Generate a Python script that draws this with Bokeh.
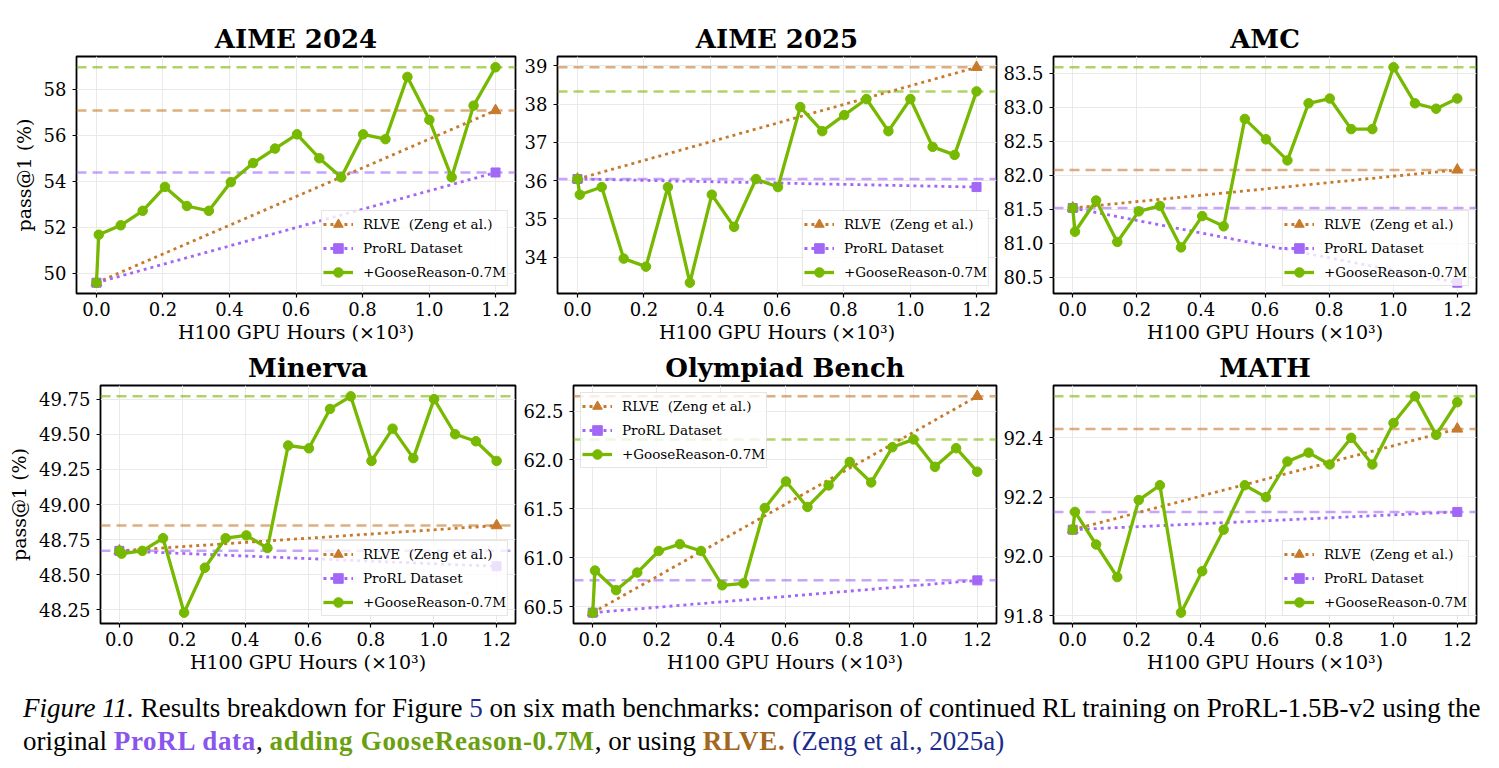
from bokeh.plotting import figure
from bokeh.layouts import row, column
from bokeh.models import (FixedTicker, PrintfTickFormatter, Range1d, Span,
                          Legend, LegendItem, Div)
from bokeh.embed import file_html
from bokeh.resources import INLINE

# ---- data -------------------------------------------------------------
# H100 GPU hours (x10^3) at each evaluated checkpoint
hours = [0.0, 0.007, 0.073, 0.139, 0.206, 0.272, 0.338, 0.404, 0.471, 0.537,
         0.603, 0.670, 0.736, 0.802, 0.869, 0.935, 1.001, 1.068, 1.134, 1.2]
# baselines are only evaluated at the start and the end of training
endpoints = [0.0, 1.2]
x_ticks = [0.0, 0.2, 0.4, 0.6, 0.8, 1.0, 1.2]

aime24_goose = [49.58, 51.67, 52.08, 52.71, 53.75, 52.92, 52.71, 53.96, 54.79, 55.42,
                56.04, 55.00, 54.17, 56.04, 55.83, 58.54, 56.67, 54.17, 57.29, 58.96]
aime24_rlve = [49.58, 57.08]
aime24_prorl = [49.58, 54.38]
aime24_ticks = [50, 52, 54, 56, 58]

aime25_goose = [36.04, 35.63, 35.83, 33.96, 33.75, 35.83, 33.33, 35.63, 34.79, 36.04,
                35.83, 37.92, 37.29, 37.71, 38.13, 37.29, 38.13, 36.88, 36.67, 38.33]
aime25_rlve = [36.04, 38.96]
aime25_prorl = [36.04, 35.83]
aime25_ticks = [34, 35, 36, 37, 38, 39]

amc_goose = [81.52, 81.17, 81.63, 81.02, 81.47, 81.55, 80.94, 81.40, 81.25, 82.83,
             82.53, 82.22, 83.06, 83.13, 82.68, 82.68, 83.59, 83.06, 82.98, 83.13]
amc_rlve = [81.52, 82.08]
amc_prorl = [81.52, 80.42]
amc_ticks = [80.5, 81.0, 81.5, 82.0, 82.5, 83.0, 83.5]

minerva_goose = [48.67, 48.65, 48.67, 48.76, 48.23, 48.55, 48.76, 48.78, 48.69, 49.42,
                 49.40, 49.68, 49.77, 49.31, 49.54, 49.33, 49.75, 49.50, 49.45, 49.31]
minerva_rlve = [48.67, 48.85]
minerva_prorl = [48.67, 48.56]
minerva_ticks = [48.25, 48.50, 48.75, 49.00, 49.25, 49.50, 49.75]

olympiad_goose = [60.44, 60.87, 60.67, 60.85, 61.07, 61.14, 61.07, 60.72, 60.74, 61.51,
                  61.78, 61.52, 61.74, 61.98, 61.77, 62.13, 62.21, 61.93, 62.12, 61.88]
olympiad_rlve = [60.44, 62.65]
olympiad_prorl = [60.44, 60.77]
olympiad_ticks = [60.5, 61.0, 61.5, 62.0, 62.5]

math_goose = [92.09, 92.15, 92.04, 91.93, 92.19, 92.24, 91.81, 91.95, 92.09, 92.24,
              92.20, 92.32, 92.35, 92.31, 92.40, 92.31, 92.45, 92.54, 92.41, 92.52]
math_rlve = [92.09, 92.43]
math_prorl = [92.09, 92.15]
math_ticks = [91.8, 92.0, 92.2, 92.4]

labels = ["RLVE  (Zeng et al.)", "ProRL Dataset", "+GooseReason-0.7M"]

# ---- style ------------------------------------------------------------
GREEN = "#76b900"
ORANGE = "#c77a2c"
PURPLE = "#a267f6"
SERIF = "DejaVu Serif"


def make_panel(title, goose, rlve, prorl, yticks, yfmt, legend_loc, ylabel,
               width, height, left, right, top, bottom):
    values = goose + rlve + prorl
    lo, hi = min(values), max(values)
    ypad = 0.05 * (hi - lo)
    xlo, xhi = min(hours), max(hours)
    xpad = 0.05 * (xhi - xlo)

    p = figure(width=width, height=height, title=title,
               x_range=Range1d(xlo - xpad, xhi + xpad),
               y_range=Range1d(lo - ypad, hi + ypad),
               output_backend="svg", toolbar_location=None,
               min_border_left=left, min_border_right=right,
               min_border_top=top, min_border_bottom=bottom)
    p.background_fill_color = "white"
    p.border_fill_color = "white"
    p.outline_line_color = "black"
    p.outline_line_width = 1.8

    p.title.text_font = SERIF
    p.title.text_font_style = "bold"
    p.title.text_font_size = "26px"
    p.title.text_color = "black"
    p.title.align = "center"
    p.title.standoff = 5

    p.grid.grid_line_color = "#e9e9e9"
    p.grid.grid_line_width = 1

    for ax in (p.xaxis[0], p.yaxis[0]):
        ax.axis_line_color = None
        ax.major_tick_line_color = "black"
        ax.major_tick_line_width = 1.2
        ax.major_tick_out = 4
        ax.major_tick_in = 0
        ax.minor_tick_line_color = None
        ax.major_label_text_font = SERIF
        ax.major_label_text_font_size = "18px"
        ax.major_label_text_color = "black"
        ax.axis_label_text_font = SERIF
        ax.axis_label_text_font_size = "19px"
        ax.axis_label_text_font_style = "normal"
        ax.axis_label_text_color = "black"

    p.xaxis.ticker = FixedTicker(ticks=x_ticks)
    p.xaxis.formatter = PrintfTickFormatter(format="%.1f")
    p.xaxis.axis_label = "H100 GPU Hours (×10³)"
    p.xaxis.major_label_standoff = 4
    p.xaxis.axis_label_standoff = 2

    p.yaxis.ticker = FixedTicker(ticks=yticks)
    p.yaxis.formatter = PrintfTickFormatter(format=yfmt)
    p.yaxis.major_label_standoff = 6
    p.yaxis.axis_label_standoff = 6
    if ylabel:
        p.yaxis.axis_label = ylabel

    # best score reached by each run
    for series, col in ((goose, GREEN), (rlve, ORANGE), (prorl, PURPLE)):
        p.add_layout(Span(location=max(series), dimension="width",
                          line_color=col, line_alpha=0.6, line_width=2.5,
                          line_dash="10 6", level="underlay"))

    r_line = p.line(endpoints, rlve, line_color=ORANGE, line_width=2.8,
                    line_dash="3 4")
    r_mark = p.scatter(endpoints, rlve, marker="triangle", size=11,
                       fill_color=ORANGE, line_color=ORANGE)
    q_line = p.line(endpoints, prorl, line_color=PURPLE, line_width=2.8,
                    line_dash="3 4")
    q_mark = p.scatter(endpoints, prorl, marker="square", size=9,
                       fill_color=PURPLE, line_color=PURPLE)
    g_line = p.line(hours, goose, line_color=GREEN, line_width=3.3)
    g_mark = p.scatter(hours, goose, marker="circle", size=9.5,
                       fill_color=GREEN, line_color=GREEN)

    legend = Legend(items=[LegendItem(label=labels[0], renderers=[r_line, r_mark]),
                           LegendItem(label=labels[1], renderers=[q_line, q_mark]),
                           LegendItem(label=labels[2], renderers=[g_line, g_mark])],
                    location=legend_loc)
    legend.label_text_font = SERIF
    legend.label_text_font_size = "13.5px"
    legend.label_text_color = "black"
    legend.glyph_width = 30
    legend.glyph_height = 24
    legend.label_height = 18
    legend.label_standoff = 10
    legend.spacing = -5
    legend.padding = 1
    legend.margin = 7
    legend.background_fill_alpha = 0.8
    legend.border_line_color = "#cccccc"
    legend.border_line_width = 1
    p.add_layout(legend)
    return p


row1_h = 348
row2_h = 335

f1 = make_panel("AIME 2024", aime24_goose, aime24_rlve, aime24_prorl, aime24_ticks,
                "%.0f", "bottom_right", "pass@1 (%)", 520, row1_h, 76, 5, 56, 55)
f2 = make_panel("AIME 2025", aime25_goose, aime25_rlve, aime25_prorl, aime25_ticks,
                "%.0f", "bottom_right", None, 480, row1_h, 37, 4, 56, 55)
f3 = make_panel("AMC", amc_goose, amc_rlve, amc_prorl, amc_ticks,
                "%.1f", "bottom_right", None, 499, row1_h, 52, 23, 56, 55)

f4 = make_panel("Minerva", minerva_goose, minerva_rlve, minerva_prorl, minerva_ticks,
                "%.2f", "bottom_right", "pass@1 (%)", 520, row2_h, 100, 5, 37, 60)
f5 = make_panel("Olympiad Bench", olympiad_goose, olympiad_rlve, olympiad_prorl,
                olympiad_ticks, "%.1f", "top_left", None, 480, row2_h, 52, 4, 37, 60)
f6 = make_panel("MATH", math_goose, math_rlve, math_prorl, math_ticks,
                "%.1f", "bottom_right", None, 499, row2_h, 52, 23, 37, 60)

NAVY = "#1b2c8c"
BOLD = "font-weight:bold;letter-spacing:0.7px;"
caption_html = (
    '<div style="font-family:\'Liberation Serif\',\'Times New Roman\',serif;'
    'font-size:27px;line-height:33px;color:black;padding:4px 0 0 18px;'
    'white-space:nowrap;">'
    '<i>Figure 11.</i> Results breakdown for Figure '
    f'<span style="color:{NAVY}">5</span> on six math benchmarks: comparison of '
    'continued RL training on ProRL-1.5B-v2 using the<br>'
    f'original <span style="{BOLD}color:#8a55ec">ProRL data</span>, '
    f'<span style="{BOLD}color:#6a9f12">adding GooseReason-0.7M</span>, or using '
    f'<span style="{BOLD}color:#a3681f">RLVE.</span> '
    f'<span style="color:{NAVY}">(Zeng et al., 2025a)</span>'
    '</div>'
)
caption = Div(text=caption_html, width=1499, height=85)

layout = column(row(f1, f2, f3), row(f4, f5, f6), caption)

with open("out.html", "w") as fh:
    fh.write(file_html(layout, INLINE))
